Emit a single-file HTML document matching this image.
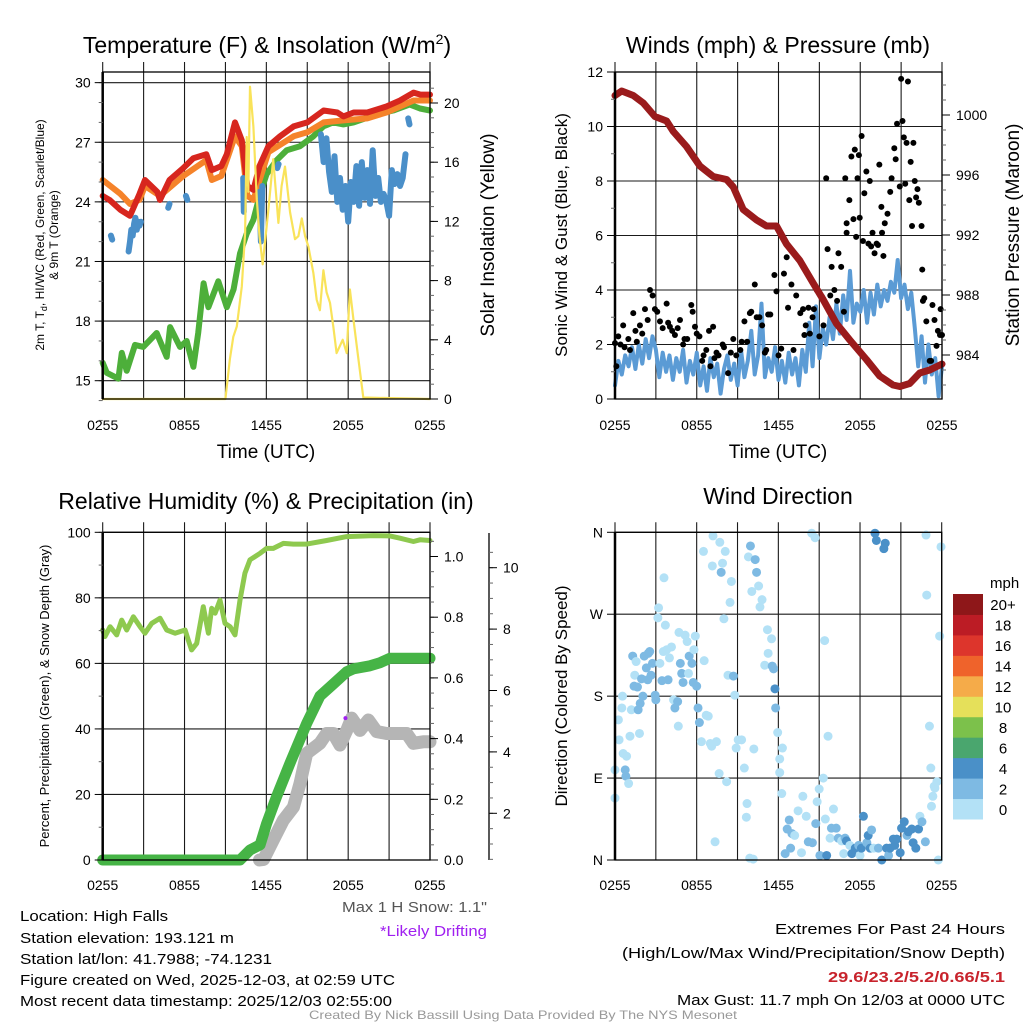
<!DOCTYPE html>
<html><head><meta charset="utf-8"><style>
html,body{margin:0;padding:0;background:#fff;}
svg{display:block;font-family:"Liberation Sans",sans-serif;}
</style></head><body>
<svg id="chart" width="1024" height="1024" viewBox="0 0 1024 1024" xmlns="http://www.w3.org/2000/svg">
<rect width="1024" height="1024" fill="#fff"/>
<g id="layer"></g>
<text x="267" y="53" font-size="23" text-anchor="middle">Temperature (F) &amp; Insolation (W/m<tspan dy="-9" font-size="14">2</tspan><tspan dy="9">)</tspan></text>
<text x="778" y="53" font-size="23" text-anchor="middle">Winds (mph) &amp; Pressure (mb)</text>
<text x="266" y="509" font-size="23" text-anchor="middle">Relative Humidity (%) &amp; Precipitation (in)</text>
<text x="778" y="504" font-size="23" text-anchor="middle">Wind Direction</text>
<text x="266" y="458" font-size="19" text-anchor="middle">Time (UTC)</text>
<text x="778" y="458" font-size="19" text-anchor="middle">Time (UTC)</text>
<text transform="translate(44,235) rotate(-90)" font-size="12" text-anchor="middle">2m T, T<tspan dy="3" font-size="9">d</tspan><tspan dy="-3">, HI/WC (Red, Green, Scarlet/Blue)</tspan></text>
<text transform="translate(58,235) rotate(-90)" font-size="12" text-anchor="middle">&amp; 9m T (Orange)</text>
<text transform="translate(494,235) rotate(-90)" font-size="19" text-anchor="middle">Solar Insolation (Yellow)</text>
<text transform="translate(567,235) rotate(-90)" font-size="17" text-anchor="middle">Sonic Wind &amp; Gust (Blue, Black)</text>
<text transform="translate(1019,235) rotate(-90)" font-size="19" text-anchor="middle">Station Pressure (Maroon)</text>
<text transform="translate(49,696) rotate(-90)" font-size="13" text-anchor="middle">Percent, Precipitation (Green), &amp; Snow Depth (Gray)</text>
<text transform="translate(567,696) rotate(-90)" font-size="17" text-anchor="middle">Direction (Colored By Speed)</text>
<text x="990" y="588" font-size="15">mph</text>
<g font-size="15" fill="#000">
<text x="20" y="921" textLength="148" lengthAdjust="spacingAndGlyphs">Location: High Falls</text>
<text x="20" y="943" textLength="214" lengthAdjust="spacingAndGlyphs">Station elevation: 193.121 m</text>
<text x="20" y="964" textLength="252" lengthAdjust="spacingAndGlyphs">Station lat/lon: 41.7988; -74.1231</text>
<text x="20" y="985" textLength="375" lengthAdjust="spacingAndGlyphs">Figure created on Wed, 2025-12-03, at 02:59 UTC</text>
<text x="20" y="1006" textLength="372" lengthAdjust="spacingAndGlyphs">Most recent data timestamp: 2025/12/03 02:55:00</text>
<text x="342" y="912" fill="#555" textLength="145" lengthAdjust="spacingAndGlyphs">Max 1 H Snow: 1.1"</text>
<text x="380" y="936" fill="#a020f0" textLength="107" lengthAdjust="spacingAndGlyphs">*Likely Drifting</text>
<text x="1005" y="934" text-anchor="end" textLength="230" lengthAdjust="spacingAndGlyphs">Extremes For Past 24 Hours</text>
<text x="1005" y="958" text-anchor="end" textLength="383" lengthAdjust="spacingAndGlyphs">(High/Low/Max Wind/Precipitation/Snow Depth)</text>
<text x="1005" y="982" text-anchor="end" fill="#c8232c" font-weight="bold" textLength="177" lengthAdjust="spacingAndGlyphs">29.6/23.2/5.2/0.66/5.1</text>
<text x="1005" y="1005" text-anchor="end" textLength="328" lengthAdjust="spacingAndGlyphs">Max Gust: 11.7 mph On 12/03 at 0000 UTC</text>
</g>
<text x="523" y="1019" font-size="12" fill="#999" text-anchor="middle" textLength="428" lengthAdjust="spacingAndGlyphs">Created By Nick Bassill Using Data Provided By The NYS Mesonet</text>
</svg>
<script>
// ---------- Panel 1 data ----------
const redT=[0,0.5,1.3,2,2.7,3.1,4,4.2,4.9,5.9,6.65,7.6,8,8.7,9.1,9.7,10.2,10.6,11.05,11.5,12.15,13,14,15,16.2,17.2,17.65,18.4,19.4,20.8,21.8,22.8,23.3,24];
const redV=[24.3,24.1,23.6,23.3,24.4,25.1,24.5,24.1,25.1,25.7,26.2,26.4,25.6,25.8,26.4,28.0,27.1,24.8,24.6,25.8,26.8,27.3,27.8,28.0,28.6,28.5,28.3,28.5,28.5,28.8,29.1,29.5,29.4,29.4];
const orgT=[0,1.3,2,2.7,3.1,4.2,5.9,7.6,8,8.7,9.7,10.2,10.6,11.05,12.15,14,15,16.2,17.65,19.4,20.8,22.8,24];
const orgV=[25.1,24.4,23.9,24.1,24.8,24.3,25.3,26.1,25.1,25.3,27.3,26.8,24.3,24.1,26.5,27.3,27.5,28.0,28.1,28.2,28.5,29.1,29.1];
const grnT=[0,0.3,1.15,1.4,1.76,2.37,2.98,3.96,4.69,4.94,5.67,6.16,6.65,7.0,7.4,7.75,8.48,9.1,9.6,10.07,10.56,11.05,11.54,12.02,12.76,13.5,14.47,15.45,16.18,16.9,17.65,18.4,20.1,21.3,22.5,23.27,24];
const grnV=[15.9,15.4,15.1,16.4,15.5,16.8,16.7,17.4,16.2,17.7,16.7,17.0,15.7,17.4,19.9,18.7,20.0,18.7,19.6,21.4,22.4,23.1,24.4,25.4,26.1,26.6,26.8,27.3,27.8,28.0,27.9,28.0,28.4,28.6,28.9,28.7,28.6];
const bluT=[0.6,0.7,null,1.9,2.0,2.1,2.2,2.3,2.4,2.5,2.6,2.7,2.8,null,4.8,4.9,null,6.1,6.2,null,10.3,10.35,null,11.5,11.6,11.7,null,12.8,12.9,null,16.0,16.2,16.4,16.6,16.8,17.0,17.2,17.4,17.6,17.8,18.0,18.2,18.4,18.6,18.8,19.0,19.2,19.4,19.6,19.8,20.0,20.2,20.4,20.6,20.8,21.0,21.2,21.4,21.6,21.8,22.0,22.2,null,22.4,22.5];
const bluV=[22.3,22.1,null,21.5,22.0,22.6,22.3,22.9,23.2,22.6,23.0,22.8,23.0,null,23.7,23.9,null,24.3,24.1,null,25.2,23.5,null,24.5,22.0,24.8,null,25.7,25.9,null,27.4,26.0,27.2,25.5,24.5,26.3,24.0,25.2,23.6,24.8,23.0,25.0,24.0,25.8,23.8,26.0,24.2,25.6,23.9,26.6,24.3,25.2,24.0,24.4,24.0,23.3,25.6,24.9,25.4,24.8,25.2,26.4,null,28.2,27.9];
const solT=[0,9.0,9.33,9.58,9.83,10.2,10.44,10.56,10.68,10.8,11.05,11.3,11.5,11.73,12.15,12.5,12.71,12.88,13.12,13.37,13.74,14.1,14.35,14.6,14.84,15.08,15.45,15.69,15.93,16.18,16.42,16.67,16.91,17.15,17.6,17.89,18.13,18.38,18.75,19.11,24];
const solV=[0,0,2.7,4.2,4.9,7.6,11.2,17.7,14,21.1,18.4,13.5,11.0,9.1,12.8,16.2,13.9,11.9,14.4,15.7,12.6,10.8,11.0,12.2,11.0,10.3,8.5,6.7,6.0,8.7,7.2,6.5,4.9,3.1,4.0,3.1,7.4,5.4,2.7,0.1,0];
const timeTicks=["0255","0855","1455","2055","0255"];
const tempTicks=[15,18,21,24,27,30];
const solTicks=[0,4,8,12,16,20];
// ---------- Panel 2 data ----------
const presT=[0,0.49,1.34,2.08,2.93,3.79,4.28,5.25,6.23,7.21,8.19,8.68,9.41,10.39,11.12,11.85,12.59,13.56,14.54,15.27,16.25,17.23,18.45,19.43,20.4,20.9,21.63,22.36,23.1,24];
const presV=[1001.3,1001.6,1001.3,1000.8,999.9,999.6,998.9,997.9,996.6,995.9,995.7,995.2,993.7,993.0,992.6,992.6,991.4,990.3,988.8,987.7,986.1,985.0,983.7,982.6,982.0,981.9,982.1,982.8,983.0,983.4];
const windV=[0.5,1.4,0.9,1.6,1.2,1.9,1.1,2.0,1.3, 2.2,1.5,2.3,1.8,0.8,1.7,1.0,1.6, 0.7,1.5,1.0,1.8,0.6,1.4,0.9,1.7, 0.5,1.2,0.3,1.5,0.8,1.3,0.2,1.1, 1.6,0.7,1.3,0.5,1.8,0.8,1.4,2.5, 0.9,1.6,3.5,0.8,1.5,1.0,1.9,0.7, 1.4,0.6,1.7,0.9,1.5,0.5,1.8,1.0, 2.8,1.2,3.4,1.5,2.6,2.0,3.0,2.2, 3.5,2.4,3.8,2.9,4.7,2.8,3.5,3.2, 4.0,2.8,3.9,3.1,4.2,3.4,4.0,3.6, 4.3,3.9,5.1,3.7,4.2,3.3,3.9,2.6, 1.2,2.3,0.6,2.0,0.9,1.5,0.1,1.2];
const windStepHours=0.25;
const gustT=[0,0.24,0.6,0.98,1.34,1.83,2.2,2.57,2.76,2.93,3.3,3.79,4.03,4.4,4.77,5.1,5.6,5.87,6.2,6.7,7.2,7.45,7.9,8.3,8.68,9.2,9.5,9.9,10.26,10.6,11.0,11.24,11.7,11.85,12.2,12.6,12.7,12.95,13.3,13.6,13.9,14.2,14.5,14.8,15.2,15.5,15.6,15.9,16.1,16.4,16.6,16.9,17.0,17.2,17.35,17.6,17.7,17.9,17.96,18.1,18.3,18.45,18.6,18.7,18.9,19.05,19.3,19.4,19.55,19.7,19.8,20.0,20.3,20.5,20.7,20.9,21.0,21.1,21.3,21.4,21.5,21.6,21.7,21.8,21.9,22.0,22.1,22.3,22.5,22.55,22.7,22.85,23.1,23.3,23.45,23.6,23.7,23.85,24,
 0.1,0.4,0.7,1.1,1.5,1.6,2.0,2.4,3.1,3.5,3.9,4.2,4.6,5.0,5.3,5.7,6.0,6.4,6.5,6.9,7.0,7.3,7.6,8.0,8.5,8.9,9.3,9.7,10.0,10.4,10.8,11.1,11.4,12.0,12.4,13.1,13.8,14.0,14.3,14.6,15.0,15.3,15.8,16.3,16.8,17.0,17.5,17.8,18.2,18.8,19.2,19.6,20.2,20.6,21.2,22.2,22.6,23.2,23.9];
const gustV=[2.05,2.3,2.7,2.2,3.15,2.7,3.3,4.0,3.8,3.3,2.85,3.5,2.65,2.35,2.9,2.2,3.45,2.65,2.3,1.8,2.65,1.7,2.0,0.95,2.2,1.8,2.85,3.15,4.2,3.0,1.7,3.1,4.55,3.95,1.85,5.2,3.35,4.2,3.8,3.15,2.35,3.35,3.0,4.0,3.75,8.1,5.5,4.85,4.0,5.35,4.85,8.1,6.45,7.3,8.9,9.15,5.95,8.95,6.65,9.65,7.55,8.35,5.7,8.0,6.1,5.35,5.65,8.6,7.05,5.25,6.45,6.8,8.1,9.2,10.1,7.8,11.75,10.2,7.9,9.4,11.65,7.3,8.7,6.35,9.4,8.0,7.4,7.2,6.35,4.75,3.7,2.85,1.4,3.45,2.9,1.95,2.5,2.35,2.35,
 1.2,2.0,1.9,1.8,2.5,2.1,2.4,2.9,3.2,2.6,2.8,2.5,2.6,2.0,2.2,3.2,2.4,1.4,1.6,2.5,1.2,1.5,1.6,1.9,1.7,1.6,2.1,2.1,3.2,3.0,2.7,1.8,3.1,1.6,4.6,1.8,3.3,2.7,2.4,3.3,2.3,2.7,3.8,3.6,3.2,6.1,6.6,8.1,5.8,5.6,5.7,6.1,7.6,8.8,9.6,7.7,3.6,1.4,3.3];
const windTicks=[0,2,4,6,8,10,12];
const presTicks=[984,988,992,996,1000];
// ---------- Panel 3 data ----------
const rhT=[0,0.17,0.54,1.03,1.39,1.76,2.25,2.74,3.1,3.59,4.2,4.69,5.3,6.04,6.28,6.52,6.89,7.38,7.75,7.99,8.24,8.6,8.97,9.34,9.7,10.07,10.43,10.8,11.54,12.02,12.51,13.25,13.98,14.96,16.42,17.89,19.84,21.06,21.8,22.78,23.27,24];
const rhV=[70.2,68.2,71.2,68.7,73.2,70.2,74.2,71.2,69.2,72.2,73.8,70.2,69.2,70.2,67.1,64.1,66.1,77.3,69.2,76.8,75.3,79.3,72.2,71.2,68.7,79.3,87.5,91.6,93.6,95.1,95.1,96.6,96.4,96.4,97.5,98.7,99.0,98.9,98.2,97.2,97.7,97.5];
const prT=[0,10.07,10.8,11.54,12.02,12.76,13.74,14.96,15.93,16.91,17.89,18.38,19.6,20.33,21.06,24];
const prV=[0,0,0.033,0.05,0.12,0.21,0.32,0.45,0.54,0.58,0.62,0.63,0.64,0.65,0.665,0.665];
const snT=[11.5,11.8,12.51,13.25,13.98,14.47,14.96,15.93,16.42,16.91,17.4,17.89,18.25,18.87,19.48,20.09,20.82,22.29,22.78,23.5,24];
const snV=[0.48,0.5,1.13,1.78,2.2,2.97,3.95,4.28,4.6,4.6,4.22,4.7,5.1,4.7,5.04,4.66,4.6,4.6,4.28,4.33,4.33];
const driftT=[17.8];
const driftV=[5.1];
const rhTicks=[0,20,40,60,80,100];
const prTicks=["0.0","0.2","0.4","0.6","0.8","1.0"];
const snTicks=[2,4,6,8,10];
// ---------- Panel 4 data ----------
const dirT=[0,0,0.25,0.3,0.5,0.55,0.6,0.85,0.75,0.8,1.0,1.1,1.2,1.3,1.4,1.45,1.55,1.65,1.7,1.85,1.8,1.95,2.05,2.15,2.3,2.4,2.45,2.55,2.65,2.75,2.95,3.0,3.2,3.15,3.3,3.45,3.55,3.6,3.7,3.8,3.9,4.0,4.15,4.3,4.4,4.6,4.65,4.7,4.8,4.9,5.0,5.15,5.3,5.4,5.45,5.65,5.75,5.8,5.9,6.0,6.1,6.2,6.35,6.5,6.55,6.7,6.85,7.0,7.1,7.15,7.2,7.35,7.45,7.65,7.7,7.8,7.9,8.0,8.1,8.2,8.3,8.45,8.55,8.7,8.8,8.9,9.05,9.3,9.5,9.7,9.65,9.8,9.9,9.95,10.05,10.15,10.2,10.3,10.4,10.55,10.65,10.8,11.0,11.2,11.25,11.5,11.55,11.65,11.75,11.8,11.95,12.1,12.1,12.25,12.3,12.5,12.65,12.8,12.9,13.0,13.2,13.45,13.7,13.8,14.05,14.2,14.45,14.5,14.7,14.75,14.85,15.0,15.05,15.3,15.4,15.45,15.55,15.65,15.8,15.9,16.05,16.25,16.4,16.65,16.8,16.9,17.0,17.25,17.4,17.65,17.9,18.0,18.1,18.25,18.5,18.6,18.75,18.85,19.0,19.1,19.2,19.35,19.6,19.75,19.85,19.95,20.1,20.2,20.45,20.55,20.7,20.95,21.05,21.25,21.45,21.55,21.8,21.9,22.1,22.3,22.4,22.55,22.8,22.85,22.9,23.1,23.2,23.25,23.35,23.45,23.5,23.65,23.75,23.85,23.95];
const dirV=[68,99,154,132,167,180,117,114,99,92,84,136,165,224,191,203,218,190,165,172,139,199,180,224,211,198,227,229,203,216,181,176,277,266,216,197,229,310,258,231,198,222,234,176,167,174,147,250,216,205,195,247,240,205,224,216,195,231,246,191,167,151,130,339,219,159,158,128,125,323,356,20,130,95,349,316,326,265,339,86,203,283,306,202,181,123,132,132,101,62,47,333,2,345,295,1,122,330,316,301,278,286,214,253,227,243,213,210,188,167,140,111,96,73,123,7,34,44,13,29,27,54,8,70,48,20,359,19,354,40,64,78,5,90,241,45,5,136,24,35,56,35,24,21,7,24,21,16,7,13,16,5,13,48,19,27,13,33,13,359,351,13,0,342,348,13,5,13,23,16,23,8,35,42,27,31,34,19,13,34,48,42,20,357,291,147,101,59,70,81,79,86,0,246,344];
const dirS=[1,1,1,1,1,1,1,1,3,3,1,1,1,3,3,1,1,3,3,3,1,3,3,3,3,3,3,3,3,3,3,3,1,1,1,3,1,1,1,1,3,1,1,1,3,3,1,1,3,3,3,1,1,1,3,3,3,1,1,3,3,3,1,1,1,1,1,1,1,1,1,1,1,1,1,3,1,1,1,1,1,1,1,3,1,1,1,1,1,1,1,1,1,3,1,1,1,3,3,1,1,1,1,1,1,1,3,3,5,3,1,1,1,1,1,3,3,3,3,3,1,1,1,1,1,3,1,3,1,3,1,1,3,1,1,1,5,1,1,3,1,3,3,1,1,3,5,1,5,5,3,1,5,5,3,5,5,3,1,5,5,3,5,5,5,5,3,5,5,5,5,5,5,5,3,5,5,5,5,5,1,3,3,1,1,1,1,1,1,1,1,1,1,1,1];
const dirTicks=["N","E","S","W","N"];
const cbLabels=["0","2","4","6","8","10","12","14","16","18","20+"];
const cbColors=["#b3e1f6","#7ebae3","#4a90c8","#4aa66e","#7cc14b","#e5e05a","#f5ab49","#ef632b","#dd352c","#bc1c25","#8e1719"];

const NS="http://www.w3.org/2000/svg";
const root=document.getElementById('layer');
function mk(tag,attrs,parent){const e=document.createElementNS(NS,tag);for(const k in attrs)e.setAttribute(k,attrs[k]);(parent||root).appendChild(e);return e;}
function txt(s,x,y,size,anchor,parent){const e=mk('text',{x:x,y:y,'font-size':size,'text-anchor':anchor||'middle'},parent);e.textContent=s;return e;}

const P1={x0:102.7,x1:430,y0:72,y1:399};
const P2={x0:615,x1:942,y0:72,y1:399};
const P3={x0:102.7,x1:430,y0:532.3,y1:860};
const P4={x0:615,x1:941.7,y0:532.3,y1:860};
const hx=(P,h)=>P.x0+h*(P.x1-P.x0)/24;
const y1T=v=>380.7-(v-15)*19.87;
const y1S=v=>399-v*14.8;
const y2W=v=>399-v*27.25;
const y2P=v=>355-(v-984)*15;
const y3R=v=>860-v*3.277;
const y3P=v=>860-v*303.5;
const y3S=v=>Math.min(860,874.7-v*30.7);
const y4D=v=>860-v*0.9103;

function grid(P,yvals,name){
  const g=mk('g',{stroke:'#1a1a1a','stroke-width':1.1});
  
  
  for(let h=0;h<=24;h+=3){const x=hx(P,h);mk('line',{x1:x,x2:x,y1:P.y0-10,y2:P.y1},g);}
  yvals.forEach(y=>mk('line',{x1:P.x0,x2:P.x1,y1:y,y2:y},g));
}
function frame(P,name){
  const r=mk('rect',{x:P.x0,y:P.y0,width:P.x1-P.x0,height:P.y1-P.y0,fill:'none',stroke:'#000','stroke-width':1.3});
  
  
  mk('line',{x1:P.x0,x2:P.x0,y1:P.y0,y2:P.y1,stroke:'#000','stroke-width':2.5});
}
function xlabels(P,y,name){
  const g=mk('g',{});
  
  
  timeTicks.forEach((s,i)=>txt(s,hx(P,i*6),y,14,'middle',g));
}
function yaxis(vals,labels,fy,x,side,minor,name){
  const g=mk('g',{stroke:'#000','stroke-width':1});
  
  
  const d=side==='left'?-1:1;
  minor.forEach(v=>{const y=fy(v);mk('line',{x1:x,x2:x+d*4,y1:y,y2:y,stroke:'#666'},g);});
  vals.forEach((v,i)=>{const y=fy(v);mk('line',{x1:x,x2:x+d*8,y1:y,y2:y},g);
    const t=txt(labels[i],x+d*(side==='left'?12:14),y+5,14,side==='left'?'end':'start',g);t.setAttribute('stroke','none');});
}
function poly(ts,vs,fx,fy,attrs,name){
  let d='',pen=false;
  for(let i=0;i<ts.length;i++){
    if(ts[i]===null||vs[i]===null){pen=false;continue;}
    d+=(pen?'L':'M')+fx(ts[i]).toFixed(1)+' '+fy(vs[i]).toFixed(1);pen=true;
  }
  const p=mk('path',Object.assign({d:d,fill:'none','stroke-linejoin':'round','stroke-linecap':'round'},attrs));
  
  
  return p;
}

// ===== Panel 1 =====
grid(P1,tempTicks.map(y1T),'temp');
poly(grnT,grnV,h=>hx(P1,h),y1T,{stroke:'#4daf3a','stroke-width':6},'dewpoint-line');
poly(orgT,orgV,h=>hx(P1,h),y1T,{stroke:'#f5832a','stroke-width':6},'temp-9m-line');
poly(redT,redV,h=>hx(P1,h),y1T,{stroke:'#d7261e','stroke-width':6},'temp-2m-line');
poly(bluT,bluV,h=>hx(P1,h),y1T,{stroke:'#4a8fc9','stroke-width':6},'windchill-line');
poly(solT,solV,h=>hx(P1,h),y1S,{stroke:'#f9e35a','stroke-width':2.2},'solar-line');
frame(P1,'temp');
const m1=[];for(let v=13;v<=30;v++)m1.push(v);
yaxis(tempTicks,tempTicks.map(String),y1T,P1.x0,'left',m1,'temp-y-axis');
const m1s=[];for(let v=0;v<=21;v++)m1s.push(v);
yaxis(solTicks,solTicks.map(String),y1S,P1.x1,'right',m1s,'solar-y-axis');
xlabels(P1,430,'temp');

// ===== Panel 2 =====
grid(P2,windTicks.map(y2W),'wind');
const windT=windV.map((v,i)=>i*windStepHours);
poly(windT,windV,h=>hx(P2,h),y2W,{stroke:'#5b9bd5','stroke-width':4},'sonic-wind-line');
const gg=mk('g',{fill:'#000'});


gustT.forEach((t,i)=>{const c=mk('circle',{cx:hx(P2,t),cy:y2W(gustV[i]),r:3},gg);
  
  });
poly(presT,presV,h=>hx(P2,h),y2P,{stroke:'#9a1b1c','stroke-width':7},'pressure-line');
frame(P2,'wind');
const m2=[];for(let v=0;v<=12;v+=1)m2.push(v);
yaxis(windTicks,windTicks.map(String),y2W,P2.x0,'left',m2,'wind-y-axis');
const m2p=[];for(let v=982;v<=1002;v++)m2p.push(v);
yaxis(presTicks,presTicks.map(String),y2P,P2.x1,'right',m2p,'pressure-y-axis');
xlabels(P2,430,'wind');

// ===== Panel 3 =====
grid(P3,rhTicks.map(y3R),'rh');
poly(rhT,rhV,h=>hx(P3,h),y3R,{stroke:'#8ec94f','stroke-width':5},'rh-line');
poly(snT,snV,h=>hx(P3,h),y3S,{stroke:'#b5b5b5','stroke-width':13},'snow-depth-line');
poly(prT,prV,h=>hx(P3,h),y3P,{stroke:'#46b446','stroke-width':11},'precip-line');
driftT.forEach((t,i)=>{const c=mk('circle',{cx:hx(P3,t),cy:y3S(driftV[i]),r:2,fill:'#a020f0'});
  
  });
frame(P3,'rh');
const m3=[];for(let v=0;v<=100;v+=10)m3.push(v);
yaxis(rhTicks,rhTicks.map(String),y3R,P3.x0,'left',m3,'rh-y-axis');
const m3p=[];for(let v=0;v<=1.08;v+=0.05)m3p.push(v);
yaxis(prTicks.map(Number),prTicks,y3P,P3.x1,'right',m3p,'precip-y-axis');
const snAxis=mk('line',{x1:489,x2:489,y1:533,y2:860,stroke:'#000','stroke-width':1.3});


const m3s=[];for(let v=0.5;v<=10.5;v+=0.5)m3s.push(v);
yaxis(snTicks,snTicks.map(String),v=>874.7-v*30.7,489,'right',m3s,'snow-y-axis');
xlabels(P3,890,'rh');

// ===== Panel 4 =====
grid(P4,[0,90,180,270,360].map(y4D),'direction');
function spdColor(s){let i=Math.floor(s/2);if(i>10)i=10;return cbColors[i];}
const dg=mk('g',{});


dirT.forEach((t,i)=>{const c=mk('circle',{cx:hx(P4,t),cy:y4D(dirV[i]),r:4.5,fill:spdColor(dirS[i])},dg);
  
  });
frame(P4,'direction');
yaxis([0,90,180,270,360],dirTicks,y4D,P4.x0,'left',[],'direction-y-axis');
xlabels(P4,890,'direction');
const cb=mk('g',{});


const cbTop=594,cbH=225/cbLabels.length;
cbLabels.forEach((s,i)=>{const k=cbLabels.length-1-i;const y=cbTop+k*cbH;
  const r=mk('rect',{x:953,y:y,width:30,height:cbH+0.5,fill:cbColors[i]},cb);
  
  
  txt(s,1003,y+cbH/2+6,15,'middle',cb);});
</script>
</body></html>
